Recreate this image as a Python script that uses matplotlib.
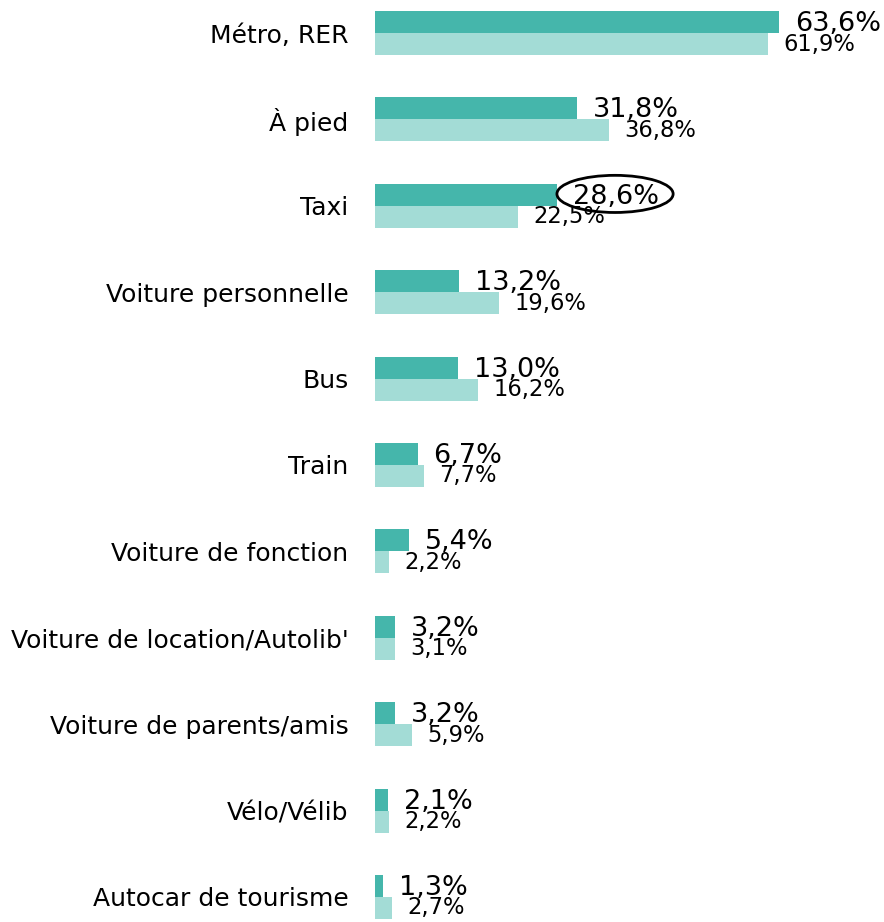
import matplotlib
matplotlib.use('Agg')
import matplotlib.pyplot as plt
from matplotlib.patches import Ellipse
import numpy as np

plt.rcParams['font.family'] = ['DejaVu Sans']

categories = ['Métro, RER', 'À pied', 'Taxi', 'Voiture personnelle', 'Bus', 'Train',
              'Voiture de fonction', "Voiture de location/Autolib'",
              'Voiture de parents/amis', 'Vélo/Vélib', 'Autocar de tourisme']
serie_1 = [63.6, 31.8, 28.6, 13.2, 13.0, 6.7, 5.4, 3.2, 3.2, 2.1, 1.3]
serie_2 = [61.9, 36.8, 22.5, 19.6, 16.2, 7.7, 2.2, 3.1, 5.9, 2.2, 2.7]
highlight = 'Taxi'

dark = '#45b6ab'
light = '#a3dcd6'

fig = plt.figure(figsize=(8.84, 9.22), dpi=100)
ax = fig.add_axes([375 / 884, 0, 1 - 375 / 884, 1])

y = np.arange(len(categories))
h = 0.255
ax.barh(y - h / 2, serie_1, height=h, color=dark)
ax.barh(y + h / 2, serie_2, height=h, color=light)

def fmt(v):
    return f'{v:.1f}%'.replace('.', ',')

for i, (a, b) in enumerate(zip(serie_1, serie_2)):
    ax.annotate(fmt(a), (a, i - h / 2), xytext=(11.5, -1.5), textcoords='offset points',
                va='center', ha='left', fontsize=19.5, color='black')
    ax.annotate(fmt(b), (b, i + h / 2), xytext=(11, 0), textcoords='offset points',
                va='center', ha='left', fontsize=16.3, color='black')

# ellipse around the highlighted value
k = categories.index(highlight)
ax.add_patch(Ellipse((serie_1[k] + 9.2, k - h / 2 - 0.01), 18.3, 0.43,
                     fill=False, edgecolor='black', linewidth=2, zorder=5))

ax.set_xlim(0, (884 - 375) / 6.35)
ax.set_ylim(10.29, -0.382)
ax.set_yticks(y)
ax.set_yticklabels(categories, fontsize=18)
ax.tick_params(axis='y', length=0, pad=19)
ax.set_xticks([])
for s in ax.spines.values():
    s.set_visible(False)

fig.savefig('out.png', dpi=100)
